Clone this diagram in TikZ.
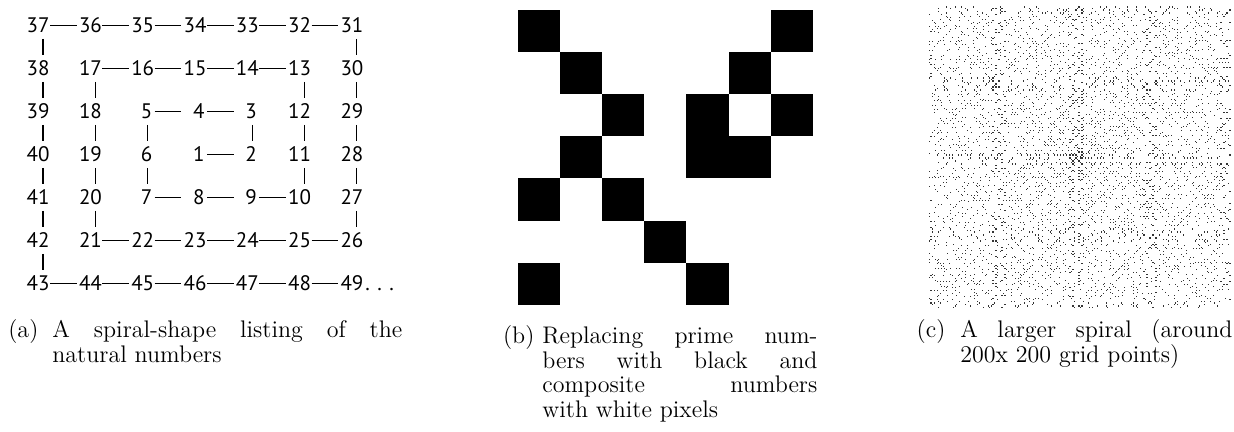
\documentclass[tikz,border=0pt]{standalone}
\usepackage{fontspec}
\newfontfamily\numfont{PT Sans}
\usetikzlibrary{positioning}

% sieve: \cmp<n> gets defined for 1 and every composite n
\newcount\sva \newcount\svb \newcount\svmax
\def\markcomp#1{\expandafter\let\csname cmp\number#1\endcsname\empty}
\def\sieveinner{%
  \ifnum\svb>\svmax\else
    \markcomp\svb \advance\svb\sva
    \expandafter\sieveinner
  \fi}
\def\sieveouter{%
  \svb=\sva \multiply\svb\sva
  \ifnum\svb>\svmax\else
    \ifcsname cmp\number\sva\endcsname\else\sieveinner\fi
    \advance\sva 1
    \expandafter\sieveouter
  \fi}
\svmax=40000 \sva=2 \markcomp{1}\sieveouter
\newif\ifprime
\def\testprime#1{\ifcsname cmp\number#1\endcsname\primefalse\else\primetrue\fi}

% walk 1,2,3,... along the square spiral
\newcount\spn \newcount\spm \newcount\spx \newcount\spy \newcount\spdir
\newcount\splen \newcount\spcnt \newcount\spturn \newcount\spprev
\def\spmove{%
  \advance\spn 1
  \spprev=\spdir
  \ifcase\spdir \advance\spx 1 \or \advance\spy 1 \or \advance\spx -1 \else \advance\spy -1 \fi
  \advance\spcnt 1
  \ifnum\spcnt=\splen
    \spcnt=0
    \advance\spdir 1 \ifnum\spdir=4 \spdir=0 \fi
    \advance\spturn 1
    \ifodd\spturn\else\advance\splen 1 \fi
  \fi}
\def\spstep{%
  \spbody
  \ifnum\spn<\spmax\relax
    \spmove
    \expandafter\spstep
  \fi}
\def\walkspiral#1#2{%
  \spn=1 \spx=0 \spy=0 \spdir=0 \splen=1 \spcnt=0 \spturn=0 \spprev=0
  \def\spmax{#1}\def\spbody{#2}%
  \spstep}
\def\spirallink{%
  \spm=\spn \advance\spm -1
  \ifcase\spprev
    \draw[link] (n\the\spm.east) -- (n\the\spn.west);
  \or
    \draw[link] ([xshift=-3.6pt]n\the\spn.south east) -- ([xshift=-3.6pt]n\the\spm.north east);
  \or
    \draw[link] (n\the\spn.east) -- (n\the\spm.west);
  \else
    \draw[link] ([xshift=-3.6pt]n\the\spm.south east) -- ([xshift=-3.6pt]n\the\spn.north east);
  \fi}

\begin{document}
\begin{tikzpicture}[x=0.5pt, y=-0.5pt,
  num/.style={font=\numfont\fontsize{10.5}{12}\selectfont, text width=10.5pt, align=right,
    text height=7.5pt, text depth=0pt, inner xsep=1pt, inner ysep=2.75pt, anchor=east},
  trail/.style={font=\numfont\fontsize{10.5}{12}\selectfont, text height=7.5pt, text depth=0pt,
    inner xsep=0.5pt, inner ysep=2.75pt},
  link/.style={line width=0.6pt},
  captext/.style={font=\fontsize{12}{12.3}\selectfont, align=justify, inner sep=0pt, anchor=north west}
]
\useasboundingbox (0,0) rectangle (1234,432);

% (a) numbers
\walkspiral{49}{%
  \node[num] (n\the\spn) at (207+52.3*\the\spx, 154.5-43*\the\spy) {\the\spn};
  \ifnum\spn>1 \spirallink\fi}
\node[trail, right=0pt of n49] (more) {.\kern3.8pt.\kern3.8pt.};

% (b) primes as black pixels
\walkspiral{49}{%
  \testprime\spn
  \ifprime \fill (665.4+42.1*\the\spx-21.05, 157.4-42.1*\the\spy-21.05) rectangle ++(42.1,42.1); \fi}

% (c) larger spiral
\walkspiral{40000}{%
  \testprime\spn
  \ifprime \fill[black!80] (1079+1.51*\the\spx-0.55, 158-1.51*\the\spy-0.55) rectangle ++(1.1,1.1); \fi}

\node[captext, text width=175pt] (capa) at (52,319)
  {\llap{(a)\hspace{7pt}}A spiral-shape listing of the\linebreak natural numbers};
\node[captext, text width=137.5pt] (capb) at (542,325)
  {\llap{(b)\hspace{4pt}}Replacing prime num-\linebreak bers with black and\linebreak composite numbers\linebreak with white pixels};
\node[captext, text width=136pt] (capc) at (960,319)
  {\llap{(c)\hspace{7.5pt}}A larger spiral (around\linebreak 200x 200 grid points)};
\end{tikzpicture}
\end{document}
